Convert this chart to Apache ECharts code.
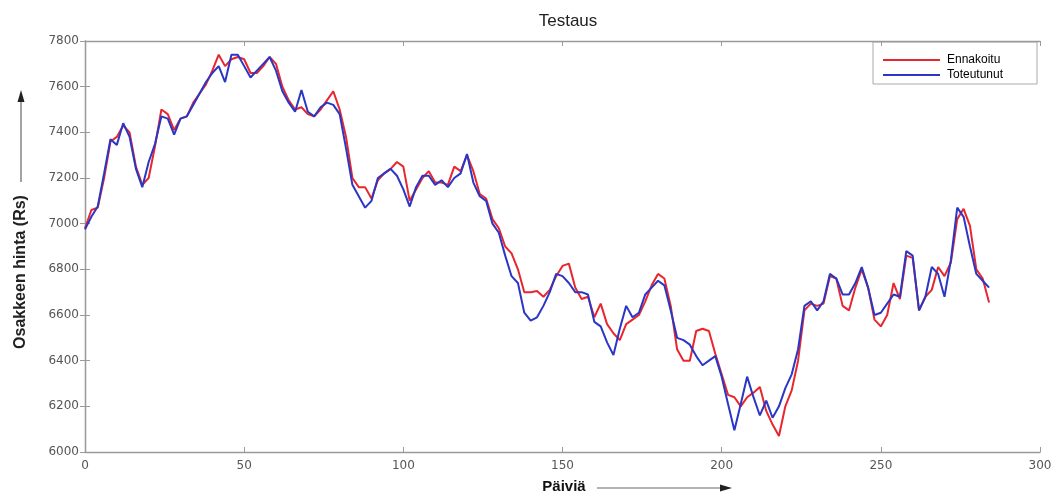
<!DOCTYPE html>
<html>
<head>
<meta charset="utf-8">
<script src="https://cdn.jsdelivr.net/npm/echarts@6/dist/echarts.min.js"></script>
<style>html,body{margin:0;padding:0;background:#fff;}#c{width:1059px;height:496px;}</style>
</head>
<body>
<div id="c"></div>
<script>
const days = [0,2,4,6,8,10,12,14,16,18,20,22,24,26,28,30,32,34,36,38,40,42,44,46,48,50,52,54,56,58,60,62,64,66,68,70,72,74,76,78,80,82,84,86,88,90,92,94,96,98,100,102,104,106,108,110,112,114,116,118,120,122,124,126,128,130,132,134,136,138,140,142,144,146,148,150,152,154,156,158,160,162,164,166,168,170,172,174,176,178,180,182,184,186,188,190,192,194,196,198,200,202,204,206,208,210,212,214,216,218,220,222,224,226,228,230,232,234,236,238,240,242,244,246,248,250,252,254,256,258,260,262,264,266,268,270,272,274,276,278,280,282,284];
const toteutunut = [6975,7030,7075,7220,7370,7345,7440,7380,7240,7160,7270,7350,7470,7460,7390,7460,7470,7520,7570,7620,7660,7690,7620,7740,7740,7690,7640,7670,7700,7730,7670,7580,7530,7490,7585,7490,7470,7510,7530,7520,7480,7330,7170,7120,7070,7100,7200,7220,7240,7210,7150,7075,7160,7210,7210,7170,7190,7160,7200,7220,7305,7180,7120,7100,7000,6960,6860,6770,6740,6610,6575,6590,6640,6700,6780,6770,6740,6700,6700,6690,6570,6550,6480,6425,6540,6640,6590,6610,6690,6720,6750,6730,6620,6500,6490,6470,6420,6380,6400,6420,6330,6210,6095,6210,6330,6240,6160,6225,6150,6200,6280,6340,6450,6640,6660,6620,6660,6780,6760,6690,6690,6740,6810,6720,6600,6610,6650,6690,6680,6880,6860,6620,6680,6810,6780,6680,6840,7070,7030,6900,6780,6750,6720];
const ennakoitu = [6980,7060,7070,7200,7360,7380,7430,7400,7250,7170,7200,7340,7500,7480,7410,7460,7470,7530,7570,7610,7670,7740,7690,7720,7730,7720,7660,7660,7690,7730,7700,7600,7540,7500,7510,7480,7470,7500,7540,7580,7500,7380,7200,7160,7160,7110,7190,7220,7240,7270,7250,7100,7150,7200,7230,7180,7180,7170,7250,7230,7300,7230,7130,7110,7020,6980,6900,6870,6800,6700,6700,6705,6680,6710,6770,6815,6825,6720,6670,6680,6590,6650,6560,6520,6490,6560,6580,6600,6660,6730,6780,6760,6640,6450,6400,6400,6530,6540,6530,6430,6340,6250,6240,6200,6240,6260,6285,6180,6120,6070,6200,6270,6400,6620,6650,6640,6650,6770,6760,6640,6620,6720,6800,6720,6580,6550,6600,6740,6670,6860,6850,6620,6680,6710,6810,6770,6830,7020,7065,6990,6800,6760,6655];
const xTicks = {min:0, max:300, interval:50};
const yTicks = {min:6000, max:7800, interval:200};
const titleText = 'Testaus';
const xName = 'Päiviä';
const yName = 'Osakkeen hinta (Rs)';
const seriesNames = ['Ennakoitu','Toteutunut'];

const chart = echarts.init(document.getElementById('c'), null, {renderer:'canvas'});
const pair = (vals) => days.map((d,i)=>[d, vals[i]]);
const axisLine = {show:true, lineStyle:{color:'#9a9a9a', width:1.3}};
const tick = {show:true, inside:true, length:5, lineStyle:{color:'#9a9a9a'}};
const lbl = {color:'#555', fontSize:12, fontFamily:'DejaVu Sans', formatter:(v)=>String(v)};
chart.setOption({
  animation:false,
  backgroundColor:'#fff',
  title:{text:titleText, left:563, top:8, textAlign:'center',
    textStyle:{fontSize:17, fontWeight:'normal', color:'#222', fontFamily:'Liberation Sans'}},
  grid:{left:85, right:19, top:41, bottom:44, containLabel:false},
  legend:{show:false},
  xAxis:[
    {type:'value', min:xTicks.min, max:xTicks.max, interval:xTicks.interval, position:'bottom',
     axisLine, axisTick:tick, splitLine:{show:false}, axisLabel:Object.assign({margin:8}, lbl)},
    {type:'value', min:xTicks.min, max:xTicks.max, interval:xTicks.interval, position:'top',
     axisLine, axisTick:tick, splitLine:{show:false}, axisLabel:{show:false}}
  ],
  yAxis:[
    {type:'value', min:yTicks.min, max:yTicks.max, interval:yTicks.interval, position:'left',
     axisLine, axisTick:tick, splitLine:{show:false}, axisLabel:Object.assign({margin:6}, lbl)},
    {type:'value', min:yTicks.min, max:yTicks.max, interval:yTicks.interval, position:'right',
     axisLine, axisTick:tick, splitLine:{show:false}, axisLabel:{show:false}}
  ],
  series:[
    {name:seriesNames[0], type:'line', data:pair(ennakoitu), showSymbol:false, smooth:false,
     lineStyle:{color:'#e8262e', width:2}, itemStyle:{color:'#e8262e'}, z:2},
    {name:seriesNames[1], type:'line', data:pair(toteutunut), showSymbol:false, smooth:false,
     lineStyle:{color:'#2a36c4', width:2}, itemStyle:{color:'#2a36c4'}, z:3}
  ],
  graphic:[
    {type:'text', x:21, y:272, rotation:Math.PI/2,
     style:{text:yName, font:'bold 16px "Liberation Sans"', fill:'#222', align:'center', verticalAlign:'middle'}},
    {type:'line', shape:{x1:21, y1:182, x2:21, y2:100}, style:{stroke:'#666', lineWidth:1.2}},
    {type:'polygon', shape:{points:[[21,90],[17.5,102],[24.5,102]]}, style:{fill:'#222'}},
    {type:'text', x:564, y:487,
     style:{text:xName, font:'bold 15px "Liberation Sans"', fill:'#111', align:'center', verticalAlign:'middle'}},
    {type:'line', shape:{x1:597, y1:488, x2:722, y2:488}, style:{stroke:'#666', lineWidth:1.2}},
    {type:'polygon', shape:{points:[[732,488],[720,484.5],[720,491.5]]}, style:{fill:'#222'}},
    {type:'rect', shape:{x:873, y:42, width:164, height:42}, style:{fill:'#fff', stroke:'#aaa', lineWidth:1}},
    {type:'line', shape:{x1:883, y1:60, x2:940, y2:60}, style:{stroke:'#e8262e', lineWidth:2}},
    {type:'text', x:947, y:60, style:{text:seriesNames[0], font:'12px "Liberation Sans"', fill:'#000', verticalAlign:'middle'}},
    {type:'line', shape:{x1:883, y1:75, x2:940, y2:75}, style:{stroke:'#2a36c4', lineWidth:2}},
    {type:'text', x:947, y:75, style:{text:seriesNames[1], font:'12px "Liberation Sans"', fill:'#000', verticalAlign:'middle'}}
  ]
});
</script>
</body>
</html>
